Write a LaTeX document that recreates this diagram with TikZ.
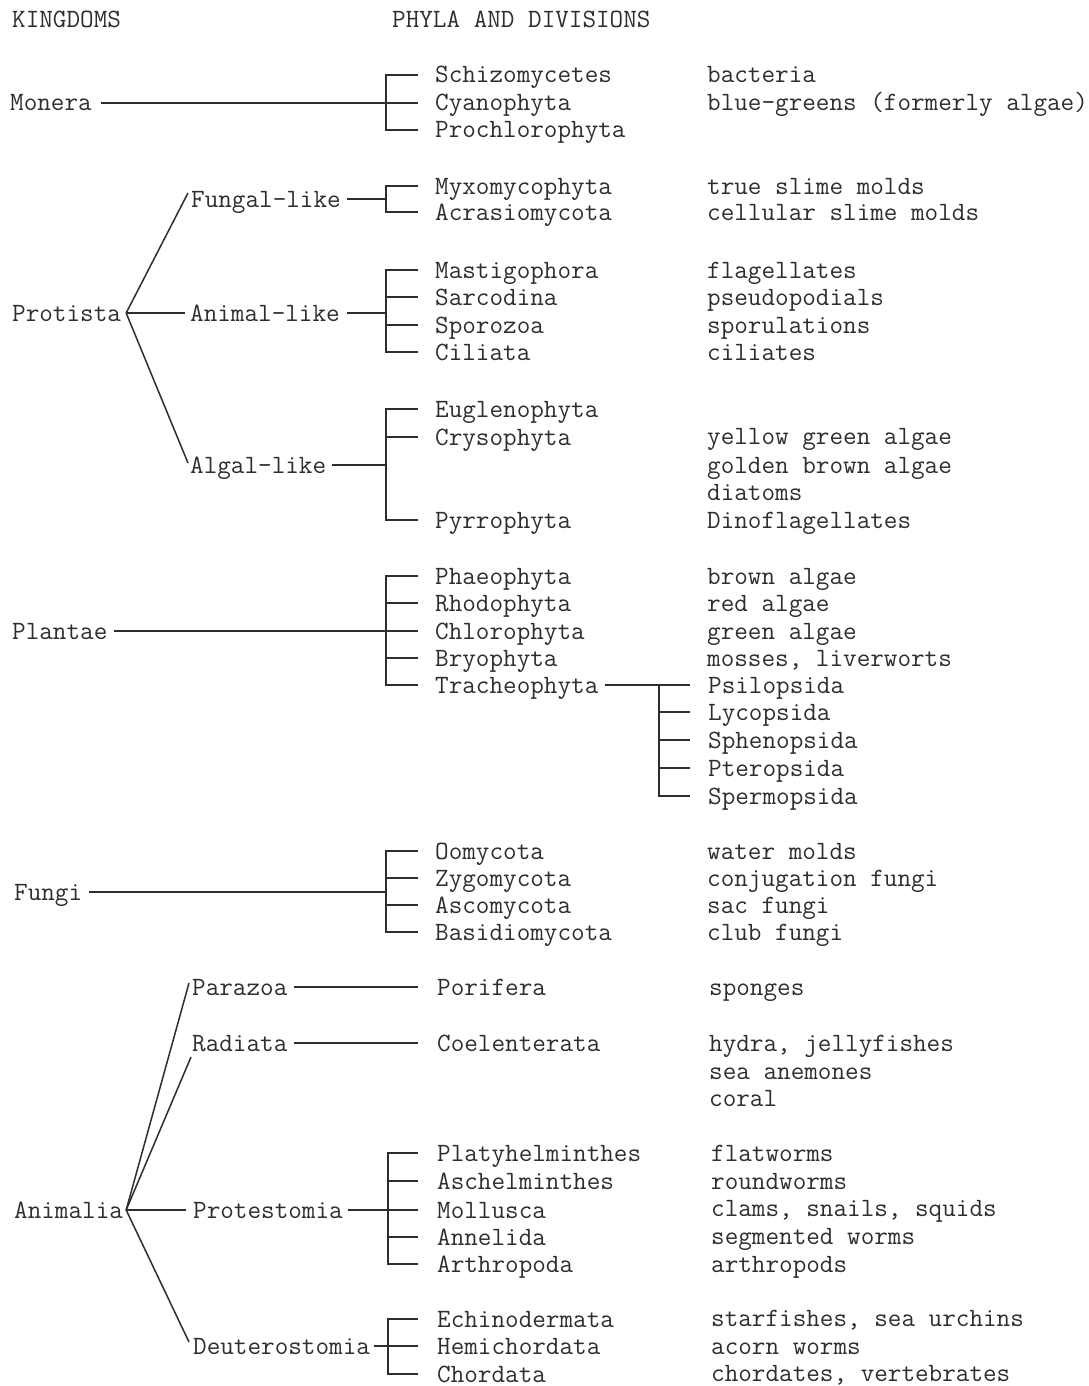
\documentclass[tikz,border=0pt]{standalone}
\definecolor{ink}{HTML}{2E2E2E}
\begin{document}
\begin{tikzpicture}[x=1pt,y=-1pt,
  lbl/.style={anchor=west,inner sep=0pt,text height=16pt,text depth=0pt,
    font=\ttfamily\fontsize{26.4}{30}\selectfont,text=ink},
  ln/.style={draw=ink,line width=1.5pt}]
\useasboundingbox[fill=white] (0,0) rectangle (1089,1386);

% headers
\node[lbl] (hk) at (12,20) {KINGDOMS};
\node[lbl] (hp) at (392,20) {PHYLA AND DIVISIONS};

% ---------------- Monera
\node[lbl] (monera) at (10,103) {Monera};
\node[lbl] (schiz) at (435,75) {Schizomycetes};
\node[lbl] (cyano) at (435,103) {Cyanophyta};
\node[lbl] (proch) at (435,130) {Prochlorophyta};
\node[lbl] (dbact) at (707,75) {bacteria};
\node[lbl] (dblue) at (707,103) {blue-greens (formerly algae)};
\draw[ln] ([xshift=-17pt]schiz.west) -- ++(-32,0) |- ([xshift=-17pt]proch.west);
\draw[ln] ([xshift=-17pt]cyano.west) -- ++(-32,0);
\draw[ln] ([xshift=9pt]monera.east) -- ([xshift=-49pt]cyano.west);

% ---------------- Protista
\node[lbl] (protista) at (12,313) {Protista};
\coordinate (pa) at ([xshift=5pt]protista.east);
\node[lbl] (fungal) at (191,199) {Fungal-like};
\node[lbl] (animal) at (190,313) {Animal-like};
\node[lbl] (algal) at (190,465) {Algal-like};
\draw[ln] (pa) -- ([shift={(-3,-6)}]fungal.west);
\draw[ln] (pa) -- ([xshift=-5pt]animal.west);
\draw[ln] (pa) -- ([shift={(-2,-2)}]algal.west);

\node[lbl] (myxo) at (435,186) {Myxomycophyta};
\node[lbl] (acras) at (435,212) {Acrasiomycota};
\node[lbl] (dmyxo) at (707,186) {true slime molds};
\node[lbl] (dacras) at (707,212) {cellular slime molds};
\draw[ln] ([xshift=-17pt]myxo.west) -- ++(-32,0) |- ([xshift=-17pt]acras.west);
\coordinate (fspine) at (386,199);
\draw[ln] ([xshift=6pt]fungal.east) -- (fspine);

\node[lbl] (masti) at (435,270) {Mastigophora};
\node[lbl] (sarco) at (435,297) {Sarcodina};
\node[lbl] (sporo) at (435,325) {Sporozoa};
\node[lbl] (cilia) at (435,352) {Ciliata};
\node[lbl] (dmasti) at (707,270) {flagellates};
\node[lbl] (dsarco) at (707,297) {pseudopodials};
\node[lbl] (dsporo) at (707,325) {sporulations};
\node[lbl] (dcilia) at (707,352) {ciliates};
\draw[ln] ([xshift=-17pt]masti.west) -- ++(-32,0) |- ([xshift=-17pt]cilia.west);
\draw[ln] ([xshift=-17pt]sarco.west) -- ++(-32,0);
\draw[ln] ([xshift=-17pt]sporo.west) -- ++(-32,0);
\coordinate (aspine) at (386,313);
\draw[ln] ([xshift=7pt]animal.east) -- (aspine);

\node[lbl] (eugl) at (435,409) {Euglenophyta};
\node[lbl] (cryso) at (435,437) {Crysophyta};
\node[lbl] (pyrro) at (435,520) {Pyrrophyta};
\node[lbl] (dyell) at (707,436) {yellow green algae};
\node[lbl] (dgold) at (707,465) {golden brown algae};
\node[lbl] (ddiat) at (707,492) {diatoms};
\node[lbl] (ddino) at (707,520) {Dinoflagellates};
\draw[ln] ([xshift=-17pt]eugl.west) -- ++(-32,0) |- ([xshift=-17pt]pyrro.west);
\draw[ln] ([xshift=-17pt]cryso.west) -- ++(-32,0);
\coordinate (lspine) at (386,465);
\draw[ln] ([xshift=6pt]algal.east) -- (lspine);

% ---------------- Plantae
\node[lbl] (plantae) at (12,631) {Plantae};
\node[lbl] (phaeo) at (435,576) {Phaeophyta};
\node[lbl] (rhodo) at (435,603) {Rhodophyta};
\node[lbl] (chloro) at (435,631) {Chlorophyta};
\node[lbl] (bryo) at (435,658) {Bryophyta};
\node[lbl] (trach) at (435,685) {Tracheophyta};
\node[lbl] (dphaeo) at (707,576) {brown algae};
\node[lbl] (drhodo) at (707,603) {red algae};
\node[lbl] (dchloro) at (707,631) {green algae};
\node[lbl] (dbryo) at (707,658) {mosses, liverworts};
\draw[ln] ([xshift=-17pt]phaeo.west) -- ++(-32,0) |- ([xshift=-17pt]trach.west);
\draw[ln] ([xshift=-17pt]rhodo.west) -- ++(-32,0);
\draw[ln] ([xshift=-17pt]chloro.west) -- ++(-32,0);
\draw[ln] ([xshift=-17pt]bryo.west) -- ++(-32,0);
\draw[ln] ([xshift=6pt]plantae.east) -- ([xshift=-49pt]chloro.west);

\node[lbl] (psilo) at (708,685) {Psilopsida};
\node[lbl] (lyco) at (708,712) {Lycopsida};
\node[lbl] (spheno) at (708,740) {Sphenopsida};
\node[lbl] (ptero) at (708,768) {Pteropsida};
\node[lbl] (sperm) at (708,796) {Spermopsida};
\draw[ln] ([xshift=6pt]trach.east) -- ([xshift=-18pt]psilo.west);
\draw[ln] ([xshift=-49pt]psilo.west) |- ([xshift=-18pt]sperm.west);
\draw[ln] ([xshift=-18pt]lyco.west) -- ++(-31,0);
\draw[ln] ([xshift=-18pt]spheno.west) -- ++(-31,0);
\draw[ln] ([xshift=-18pt]ptero.west) -- ++(-31,0);

% ---------------- Fungi
\node[lbl] (fungi) at (14,892) {Fungi};
\node[lbl] (oomy) at (435,851) {Oomycota};
\node[lbl] (zygo) at (435,878) {Zygomycota};
\node[lbl] (asco) at (435,905) {Ascomycota};
\node[lbl] (basid) at (435,932) {Basidiomycota};
\node[lbl] (doomy) at (707,851) {water molds};
\node[lbl] (dzygo) at (707,878) {conjugation fungi};
\node[lbl] (dasco) at (707,905) {sac fungi};
\node[lbl] (dbasid) at (707,932) {club fungi};
\draw[ln] ([xshift=-17pt]oomy.west) -- ++(-32,0) |- ([xshift=-17pt]basid.west);
\draw[ln] ([xshift=-17pt]zygo.west) -- ++(-32,0);
\draw[ln] ([xshift=-17pt]asco.west) -- ++(-32,0);
\coordinate (gspine) at (386,892);
\draw[ln] ([xshift=7pt]fungi.east) -- (gspine);

% ---------------- Animalia
\node[lbl] (animalia) at (14,1210) {Animalia};
\coordinate (aa) at ([xshift=3pt]animalia.east);
\node[lbl] (para) at (192,987) {Parazoa};
\node[lbl] (radi) at (192,1043) {Radiata};
\node[lbl] (prot) at (193,1210) {Protestomia};
\node[lbl] (deut) at (193,1346) {Deuterostomia};
\draw[ln] (aa) -- ([shift={(-3,-4)}]para.west);
\draw[ln] (aa) -- ([shift={(-1,14)}]radi.west);
\draw[ln] (aa) -- ([xshift=-7pt]prot.west);
\draw[ln] (aa) -- ([shift={(-4,-4)}]deut.west);

\node[lbl] (pori) at (437,987) {Porifera};
\node[lbl] (dpori) at (709,987) {sponges};
\draw[ln] ([xshift=6pt]para.east) -- ([xshift=-19pt]pori.west);

\node[lbl] (coel) at (437,1043) {Coelenterata};
\node[lbl] (dcoel1) at (709,1043) {hydra, jellyfishes};
\node[lbl] (dcoel2) at (709,1071) {sea anemones};
\node[lbl] (dcoel3) at (709,1098) {coral};
\draw[ln] ([xshift=6pt]radi.east) -- ([xshift=-19pt]coel.west);

\node[lbl] (platy) at (437,1153) {Platyhelminthes};
\node[lbl] (asch) at (437,1181) {Aschelminthes};
\node[lbl] (moll) at (437,1210) {Mollusca};
\node[lbl] (anne) at (437,1237) {Annelida};
\node[lbl] (arth) at (437,1264) {Arthropoda};
\node[lbl] (dplaty) at (711,1153) {flatworms};
\node[lbl] (dasch) at (711,1181) {roundworms};
\node[lbl] (dmoll) at (711,1208) {clams, snails, squids};
\node[lbl] (danne) at (711,1236) {segmented worms};
\node[lbl] (darth) at (711,1264) {arthropods};
\draw[ln] ([xshift=-19pt]platy.west) -- ++(-30,0) |- ([xshift=-19pt]arth.west);
\draw[ln] ([xshift=-19pt]asch.west) -- ++(-30,0);
\draw[ln] ([xshift=-19pt]moll.west) -- ++(-30,0);
\draw[ln] ([xshift=-19pt]anne.west) -- ++(-30,0);
\draw[ln] ([xshift=5pt]prot.east) -- ([xshift=-49pt]moll.west);

\node[lbl] (echi) at (437,1319) {Echinodermata};
\node[lbl] (hemi) at (437,1346) {Hemichordata};
\node[lbl] (chor) at (437,1374) {Chordata};
\node[lbl] (dechi) at (711,1318) {starfishes, sea urchins};
\node[lbl] (dhemi) at (711,1346) {acorn worms};
\node[lbl] (dchor) at (711,1373) {chordates, vertebrates};
\draw[ln] ([xshift=-19pt]echi.west) -- ++(-30,0) |- ([xshift=-19pt]chor.west);
\draw[ln] ([xshift=-19pt]hemi.west) -- ++(-30,0);
\draw[ln] ([xshift=4pt]deut.east) -- ([xshift=-49pt]hemi.west);
\end{tikzpicture}
\end{document}
